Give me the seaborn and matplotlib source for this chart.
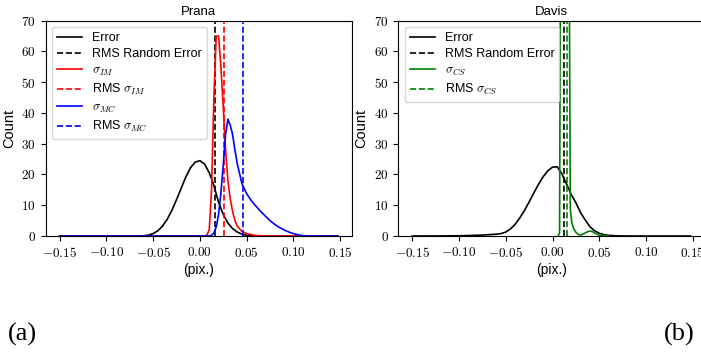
import matplotlib
matplotlib.use('Agg')
import matplotlib.pyplot as plt
import seaborn as sns
import numpy as np
from matplotlib.ticker import FuncFormatter, MultipleLocator

plt.rcParams['font.family'] = ['Liberation Sans', 'DejaVu Sans']
plt.rcParams['mathtext.fontset'] = 'cm'

# --- Prana (a) ---
prana_err_x = [-0.15, -0.065, -0.06, -0.055, -0.05, -0.045, -0.04, -0.035, -0.03, -0.025,
               -0.02, -0.015, -0.01, -0.005, 0.0, 0.005, 0.01, 0.015, 0.02, 0.025,
               0.03, 0.035, 0.04, 0.045, 0.05, 0.055, 0.06, 0.065, 0.1475]
prana_err_y = [0, 0, 0.1, 0.3, 0.8, 1.7, 3.2, 5.4, 8.3, 11.8,
               15.5, 19.2, 22.2, 24.0, 24.5, 23.4, 20.6, 16.4, 11.0, 7.0,
               4.2, 2.4, 1.3, 0.6, 0.25, 0.1, 0.03, 0, 0]

prana_im_x = [-0.15, 0.005, 0.0075, 0.01, 0.0125, 0.015, 0.0175, 0.02, 0.0225, 0.025,
              0.0275, 0.03, 0.0325, 0.035, 0.0375, 0.04, 0.045, 0.05, 0.055, 0.06,
              0.065, 0.07, 0.1475]
prana_im_y = [0, 0, 0.3, 2, 15, 45, 65, 65, 55, 42,
              28, 18, 12, 8, 5, 3.2, 1.5, 0.8, 0.4, 0.2,
              0.1, 0, 0]

prana_mc_x = [-0.15, 0.01, 0.0125, 0.015, 0.0175, 0.02, 0.0225, 0.025, 0.0275, 0.03,
              0.0325, 0.035, 0.0375, 0.04, 0.045, 0.05, 0.055, 0.06, 0.065, 0.07,
              0.075, 0.08, 0.085, 0.09, 0.095, 0.1, 0.105, 0.11, 0.115, 0.12, 0.1475]
prana_mc_y = [0, 0, 0.2, 1, 3, 7, 14, 23, 33, 38,
              36, 33, 28, 23.5, 17, 13.8, 11.5, 9.7, 8, 6.5,
              5.0, 3.8, 2.8, 2.0, 1.3, 0.8, 0.4, 0.15, 0.05, 0, 0]

prana_rms = {'err': 0.016, 'im': 0.026, 'mc': 0.046}

# --- Davis (b) ---
davis_err_x = [-0.15, -0.12, -0.1, -0.09, -0.08, -0.07, -0.06, -0.055, -0.05, -0.045,
               -0.04, -0.035, -0.03, -0.025, -0.02, -0.015, -0.01, -0.005, 0.0, 0.005,
               0.01, 0.015, 0.02, 0.025, 0.03, 0.035, 0.04, 0.045, 0.05, 0.055,
               0.06, 0.07, 0.08, 0.1475]
davis_err_y = [0, 0.02, 0.08, 0.15, 0.25, 0.4, 0.6, 0.8, 1.3, 2.3,
               3.8, 5.9, 8.3, 11.1, 14.0, 16.8, 19.3, 21.2, 22.4, 22.5,
               20.2, 16.9, 13.5, 10.8, 7.6, 5.2, 3.0, 1.7, 0.9, 0.45,
               0.2, 0.05, 0, 0]

davis_cs_x = [0.006, 0.0075, 0.0085, 0.012, 0.0165, 0.018, 0.019, 0.0205, 0.0225, 0.025,
              0.0275, 0.03, 0.0325, 0.035, 0.0375, 0.04, 0.0425, 0.045, 0.0475, 0.05,
              0.055, 0.06]
davis_cs_y = [0, 1, 90, 160, 110, 80, 9, 4.5, 2.5, 1.2,
              0.5, 0.35, 0.6, 1.0, 1.4, 1.6, 1.45, 1.0, 0.6, 0.3,
              0.08, 0]

davis_rms = {'err': 0.0125, 'cs': 0.0155}

x_ticks = [-0.15, -0.10, -0.05, 0.0, 0.05, 0.10, 0.15]

fig = plt.figure(figsize=(7.01, 3.53), dpi=100)
ax1 = fig.add_axes([0.0652, 0.3314, 0.4365, 0.610])
ax2 = fig.add_axes([0.5683, 0.3314, 0.4365, 0.610])

lw = 1.2

# Prana
sns.lineplot(x=prana_err_x, y=prana_err_y, color='k', lw=lw, label='Error', sort=False, ax=ax1)
ax1.axvline(prana_rms['err'], color='k', ls='--', lw=lw, label='RMS Random Error')
sns.lineplot(x=prana_im_x, y=prana_im_y, color='r', lw=lw, label=r'$\sigma_{IM}$', sort=False, ax=ax1)
ax1.axvline(prana_rms['im'], color='r', ls='--', lw=lw, label=r'RMS $\sigma_{IM}$')
sns.lineplot(x=prana_mc_x, y=prana_mc_y, color='b', lw=lw, label=r'$\sigma_{MC}$', sort=False, ax=ax1)
ax1.axvline(prana_rms['mc'], color='b', ls='--', lw=lw, label=r'RMS $\sigma_{MC}$')
ax1.set_title('Prana', fontsize=9.5, pad=4)

# Davis
sns.lineplot(x=davis_err_x, y=davis_err_y, color='k', lw=lw, label='Error', sort=False, ax=ax2)
ax2.axvline(davis_rms['err'], color='k', ls='--', lw=lw, label='RMS Random Error')
sns.lineplot(x=davis_cs_x, y=davis_cs_y, color='g', lw=lw, label=r'$\sigma_{CS}$', sort=False, ax=ax2)
ax2.axvline(davis_rms['cs'], color='g', ls='--', lw=lw, label=r'RMS $\sigma_{CS}$')
ax2.set_title('Davis', fontsize=9.5, pad=4)

for ax in (ax1, ax2):
    ax.set_xlim(-0.1649, 0.1624)
    ax.set_ylim(0, 70)
    ax.set_xticks(x_ticks)
    ax.yaxis.set_major_locator(MultipleLocator(10))
    ax.xaxis.set_major_formatter(FuncFormatter(lambda v, p: f'${v:.2f}$'))
    ax.yaxis.set_major_formatter(FuncFormatter(lambda v, p: f'${v:.0f}$'))
    ax.tick_params(labelsize=9.5, length=3.5)
    ax.set_xlabel('(pix.)', fontsize=10, labelpad=2)
    ax.set_ylabel('Count', fontsize=10.5)
    ax.legend(loc='upper left', fontsize=9, handlelength=2.0, labelspacing=0.35,
              borderaxespad=0.5)

fig.text(0.011, 0.035, '(a)', fontsize=19, family='Liberation Serif')
fig.text(0.947, 0.035, '(b)', fontsize=19, family='Liberation Serif')

fig.savefig('out.png', dpi=100)
